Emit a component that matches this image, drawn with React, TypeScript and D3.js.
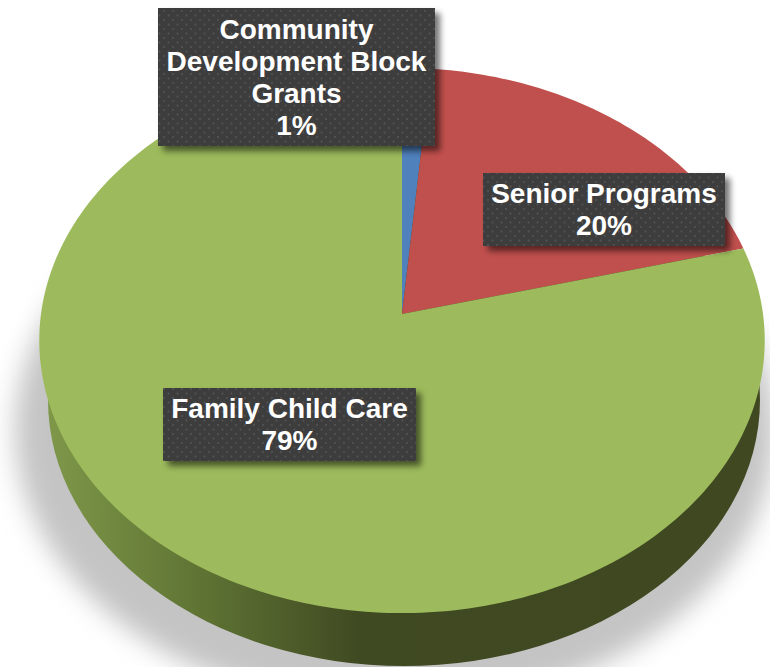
import * as d3 from 'd3';

const categories = ['Community Development Block Grants', 'Senior Programs', 'Family Child Care'];
const shares = [1.4, 19.6, 79];
const sliceColors = ['#4f81bd', '#c0504d', '#9dbb5c'];
const labelLines = [
  ['Community', 'Development Block', 'Grants'],
  ['Senior Programs'],
  ['Family Child Care'],
];

const width = 770;
const height = 667;

// the pie is tilted in perspective, so the centre of the circle sits above the centre of the ellipse
const apex = { x: 402, y: 314 };
const radiusX = 361;
const radiusY = 270;
const tilt = 0.0972;

const project = (angle: number) => {
  const u = Math.sin(angle);
  const v = -Math.cos(angle);
  const w = 1 - tilt * v;
  return [apex.x + (radiusX * u) / w, apex.y + (radiusY * v) / w] as [number, number];
};

const slicePath = (start: number, end: number) => {
  const steps = Math.max(2, Math.ceil((end - start) / 0.02));
  const angle = d3.scaleLinear().domain([0, steps]).range([start, end]);
  const rim = d3.range(steps + 1).map((i) => project(angle(i)));
  return d3.line()([[apex.x, apex.y], ...rim, [apex.x, apex.y]]) + 'Z';
};

const pie = d3.pie<number>().sort(null).value((d) => d)(shares);

const boxes = [
  { x: 158, y: 8, w: 277, h: 138 },
  { x: 483, y: 173, w: 242, h: 73 },
  { x: 163, y: 388, w: 253, h: 73 },
];

const lineHeight = 32;

export default function App() {
  return (
    <svg
      width={width}
      height={height}
      viewBox={`0 0 ${width} ${height}`}
      style={{ position: 'absolute', left: 0, top: 0 }}
      fontFamily="'Liberation Sans', Arial, sans-serif"
    >
      <defs>
        <linearGradient id="wall" gradientUnits="userSpaceOnUse" x1={40} x2={762} y1={0} y2={0}>
          <stop offset="0" stopColor="#80994a" />
          <stop offset="0.22" stopColor="#5f7434" />
          <stop offset="0.44" stopColor="#404a22" />
          <stop offset="1" stopColor="#3f4820" />
        </linearGradient>
        <filter id="pieShadow" x="-20%" y="-20%" width="140%" height="140%">
          <feGaussianBlur stdDeviation="13" />
        </filter>
        <filter id="boxShadow" x="-20%" y="-20%" width="140%" height="140%">
          <feGaussianBlur stdDeviation="3" />
        </filter>
        <pattern id="dots" width="9" height="9" patternUnits="userSpaceOnUse">
          <rect width="9" height="9" fill="#3d3d3d" />
          <circle cx="2" cy="2" r="0.9" fill="#565656" />
          <circle cx="6.5" cy="6.5" r="0.9" fill="#565656" />
        </pattern>
      </defs>

      <ellipse cx={395} cy={430} rx={380} ry={279} fill="#c4c4c4" filter="url(#pieShadow)" />

      <ellipse cx={404} cy={400} rx={356} ry={266} fill="url(#wall)" />

      {pie.map((d, i) => (
        <path key={categories[i]} d={slicePath(d.startAngle, d.endAngle)} fill={sliceColors[i]} />
      ))}

      {boxes.map((b, i) => {
        const lines = [...labelLines[i], `${Math.round(shares[i])}%`];
        const cx = b.x + b.w / 2;
        const firstBaseline = b.y + b.h / 2 - ((lines.length - 1) * lineHeight) / 2 + 9.5;
        return (
          <g key={categories[i]}>
            <rect x={b.x + 5} y={b.y + 5} width={b.w} height={b.h} fill="#000" opacity={0.55} filter="url(#boxShadow)" />
            <rect x={b.x} y={b.y} width={b.w} height={b.h} fill="url(#dots)" />
            <text textAnchor="middle" fill="#fff" fontWeight="bold" fontSize={28}>
              {lines.map((line, j) => (
                <tspan key={j} x={cx} y={firstBaseline + j * lineHeight}>
                  {line}
                </tspan>
              ))}
            </text>
          </g>
        );
      })}
    </svg>
  );
}
